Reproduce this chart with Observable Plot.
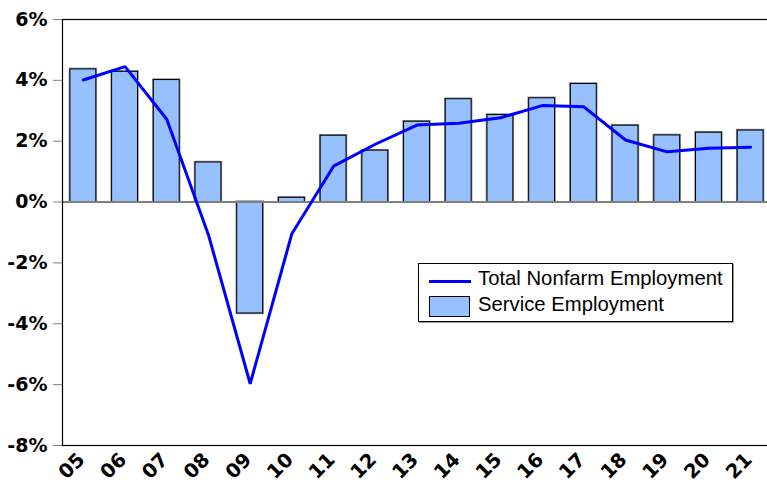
<!DOCTYPE html>
<html>
<head>
<meta charset="utf-8">
<script src="https://cdn.jsdelivr.net/npm/d3@7"></script>
<script src="https://cdn.jsdelivr.net/npm/@observablehq/plot@0.6"></script>
<style>
  html, body { margin: 0; padding: 0; background: #fff; overflow: hidden; }
  #wrap { position: relative; width: 767px; height: 484px; overflow: hidden; background: #fff; }
  #wrap svg { display: block; max-width: none; }
  .legend { position: absolute; left: 418px; top: 263px; width: 313px; height: 57px;
    border: 1px solid #000; box-shadow: 1px 1px 0 #999; background: #fff;
    font-family: "Liberation Sans", Arial, sans-serif; font-size: 20.3px; color: #000; }
  .sw-line { position: absolute; left: 10px; width: 42px; height: 3px; background: #0000ff; }
  .sw-rect { position: absolute; left: 10px; width: 39px; height: 19px; background: #96c1fe; border: 1px solid #000; }
  .lab { position: absolute; left: 59px; white-space: nowrap; line-height: 1; }
</style>
</head>
<body>
<div id="wrap"></div>
<script>
const years = ["05","06","07","08","09","10","11","12","13","14","15","16","17","18","19","20","21"];
const serviceEmployment = [4.36, 4.28, 4.01, 1.30, -3.66, 0.14, 2.18, 1.69, 2.64, 3.38, 2.86, 3.41, 3.88, 2.51, 2.19, 2.28, 2.35];
const totalNonfarm = [4.01, 4.45, 2.72, -1.08, -5.97, -1.04, 1.18, 1.90, 2.53, 2.59, 2.77, 3.17, 3.13, 2.04, 1.65, 1.77, 1.80];
const yTicks = [-8, -6, -4, -2, 0, 2, 4, 6];
const seriesNames = ["Total Nonfarm Employment", "Service Employment"];

const data = years.map((y, i) => ({year: y, service: serviceEmployment[i], total: totalNonfarm[i]}));

const chart = Plot.plot({
  width: 772,
  height: 484,
  marginLeft: 62,
  marginRight: 1,
  marginTop: 19,
  marginBottom: 39,
  style: {fontFamily: "DejaVu Sans", color: "#000", background: "#fff", maxWidth: "none"},
  x: {domain: years, paddingInner: 0.38, paddingOuter: 0.19, round: false},
  y: {domain: [-8, 6]},
  marks: [
    Plot.barY(data, {x: "year", y: "service", fill: "none", stroke: "#8a8a8a", strokeWidth: 2.5}),
    Plot.barY(data, {x: "year", y: "service", fill: "#96c1fe", stroke: "#000", strokeWidth: 1}),
    Plot.ruleY([0], {stroke: "#808080", strokeWidth: 2}),
    Plot.line(data, {x: "year", y: "total", stroke: "#0000ff", strokeWidth: 3, strokeLinejoin: "miter"}),
    Plot.frame({stroke: "#000", strokeWidth: 1.2}),
    Plot.axisY({ticks: yTicks, tickFormat: d => d + "%", tickSize: 9, tickPadding: 6, stroke: "#808080",
      fontSize: 19, fontWeight: "bold", fontFamily: "DejaVu Sans", label: null}),
    Plot.axisX({tickRotate: -45, tickSize: 0, tickPadding: 11, dx: -2,
      fontSize: 19.5, fontWeight: "bold", fontFamily: "DejaVu Sans", label: null})
  ]
});
const wrap = document.getElementById("wrap");
wrap.appendChild(chart);

const legend = document.createElement("div");
legend.className = "legend";
legend.innerHTML = `
  <div class="sw-line" style="top:16px"></div>
  <div class="lab" style="top:4px">${seriesNames[0]}</div>
  <div class="sw-rect" style="top:32px"></div>
  <div class="lab" style="top:30px">${seriesNames[1]}</div>`;
wrap.appendChild(legend);
</script>
</body>
</html>
